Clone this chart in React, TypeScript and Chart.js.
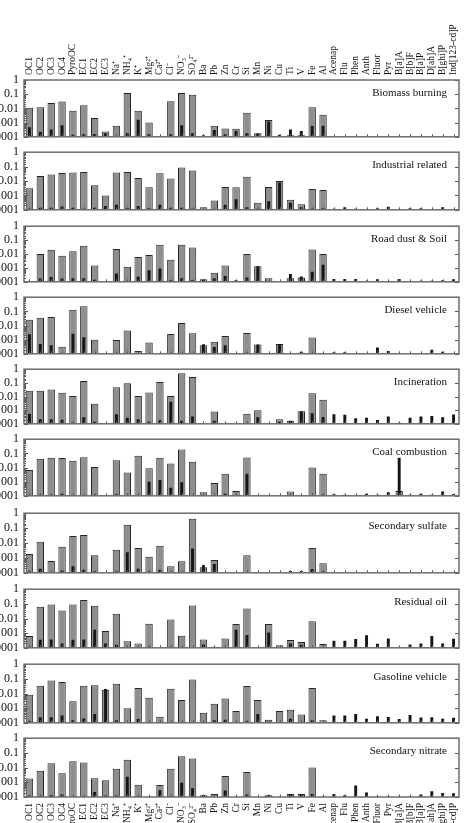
import React, { useEffect, useRef } from 'react';
import { Chart, registerables } from 'chart.js';
Chart.register(...registerables);

// ---------- data ----------
const categories = [
  'OC1', 'OC2', 'OC3', 'OC4', 'PyroOC', 'EC1', 'EC2', 'EC3',
  'Na⁺', 'NH₄⁺', 'K⁺', 'Mg²⁺', 'Ca²⁺', 'Cl⁻', 'NO₃⁻', 'SO₄²⁻',
  'Ba', 'Pb', 'Zn', 'Cr', 'Si', 'Mn', 'Ni', 'Cu', 'Ti', 'V', 'Fe', 'Al',
  'Acenap', 'Flu', 'Phen', 'Anth', 'Fluor', 'Pyr', 'B[a]A', 'B[b]F', 'B[a]P', 'D[ah]A', 'B[ghi]P', 'Ind[123-cd]P',
];

const yTickValues = [1, 0.1, 0.01, 0.001, 0.0001];

const sourceNames = [
  'Biomass burning', 'Industrial related', 'Road dust & Soil', 'Diesel vehicle', 'Incineration',
  'Coal combustion', 'Secondary sulfate', 'Residual oil', 'Gasoline vehicle', 'Secondary nitrate',
];

const N = null;
const noPAH = [N, N, N, N, N, N, N, N, N, N, N, N];

const biomassProfile = [0.011, 0.012, 0.024, 0.031, 0.0068, 0.017, 0.0021, 0.00024, 0.00059, 0.12, 0.0068, 0.001, 0.00011, 0.032, 0.12, 0.091, 0.00011, 0.0006, 0.00039, 0.00037, 0.005, 0.00018, 0.0015, 0.00012, 0.00013, 0.00013, 0.012, 0.0035, ...noPAH];
const biomassError = [0.00048, 0.00023, 0.00033, 0.00065, 0.00014, 0.00015, 0.00016, 0.00018, N, 0.00018, 0.0016, 0.00015, N, 0.00015, 0.00065, 0.00018, 0.00013, 0.0003, 0.00015, 0.00026, 0.00018, 0.00017, 0.0012, 0.00014, 0.00033, 0.00026, 0.00058, 0.0006, ...noPAH];

const industrialProfile = [0.0032, 0.022, 0.028, 0.036, 0.039, 0.043, 0.005, 0.001, 0.039, 0.043, 0.016, 0.0037, 0.034, 0.015, 0.087, 0.053, 0.00015, 0.00044, 0.0039, 0.0037, 0.02, 0.00031, 0.0039, 0.01, 0.0005, 0.00024, 0.0028, 0.0024, ...noPAH];
const industrialError = [0.00012, 0.00014, 0.00014, 0.00017, 0.00014, 0.00012, 0.00014, 0.00018, 0.00022, 0.00013, 0.00018, 0.00013, 0.00022, 0.00014, 0.00014, 0.00012, N, N, 0.00022, 0.00053, 0.00015, 0.00012, 0.0004, 0.0078, 0.00031, 0.00015, 0.00012, 0.00013, 0.00012, 0.00015, 0.00012, 0.00011, 0.00013, 0.00016, 0.00011, 0.00013, 0.00013, 0.00011, 0.00015, 0.00011];

const roadDustProfile = [N, 0.0098, 0.02, 0.0075, 0.016, 0.039, 0.0015, N, 0.023, 0.0012, 0.0062, 0.0084, 0.046, 0.0039, 0.046, 0.029, 0.00015, 0.00045, 0.0015, 0.00012, 0.01, 0.0013, 0.00018, N, 0.00018, 0.0002, 0.021, 0.01, ...noPAH];
const roadDustError = [N, 0.00017, 0.00022, 0.00017, 0.00018, 0.00018, 0.00014, N, 0.0004, N, 0.00023, 0.00068, 0.00091, 0.00013, 0.00018, 0.00013, 0.00014, 0.00018, 0.00026, 0.00013, 0.0002, 0.0013, N, N, 0.00037, 0.00024, 0.00052, 0.0017, 0.00016, 0.00016, 0.00016, 0.00012, 0.00015, 0.00011, 0.00016, 0.00011, 0.00012, 0.00012, 0.00013, 0.00015];

const dieselProfile = [0.025, 0.036, 0.04, 0.00032, 0.13, 0.23, 0.001, N, 0.00094, 0.0044, 0.00016, 0.00062, 0.00011, 0.0025, 0.015, 0.0028, 0.0004, 0.0007, 0.0018, N, 0.0029, 0.00046, N, 0.0005, N, 0.00012, 0.0014, N, ...noPAH];
const dieselError = [0.0024, 0.0005, 0.0004, N, 0.0026, 0.0015, 0.00011, N, N, N, 0.00011, 0.00011, 0.00011, 0.00011, 0.00011, 0.00011, 0.00047, 0.0003, 0.0004, N, 0.00012, 0.00046, N, 0.0005, 0.00011, 0.00014, 0.00011, 0.00011, 0.00013, 0.00013, N, N, 0.00028, 0.00016, N, N, N, 0.00019, 0.00014, N];

const incinerationProfile = [0.026, 0.026, 0.033, 0.019, 0.011, 0.135, 0.0029, N, 0.047, 0.094, 0.011, 0.02, 0.115, 0.011, 0.5, 0.27, 0.00011, 0.00079, 0.00011, 0.00011, 0.00054, 0.001, N, 0.00022, 0.00017, 0.00083, 0.017, 0.0058, ...noPAH];
const incinerationError = [0.00054, 0.00022, 0.00022, 0.0002, 0.00012, 0.0003, 0.00014, N, 0.00051, 0.00028, 0.00022, 0.00014, 0.00018, 0.0042, 0.00017, 0.00034, 0.00011, 0.00017, N, N, N, 0.0003, N, 0.00014, 0.00017, 0.00083, 0.00059, 0.00032, 0.0005, 0.00046, 0.00025, 0.00028, 0.00019, 0.00034, 0.00012, 0.00028, 0.00034, 0.00037, 0.0003, 0.00048];

const coalProfile = [0.0066, 0.041, 0.048, 0.046, 0.03, 0.053, 0.011, N, 0.032, 0.0045, 0.069, 0.009, 0.048, 0.019, 0.19, 0.026, 0.00018, 0.0008, 0.0036, 0.00022, 0.05, 0.00011, N, N, 0.0002, 0.00011, 0.01, 0.0036, N, N, N, N, N, N, 0.00022, N, N, N, N, N];
const coalError = [0.00011, 0.00012, 0.00012, 0.00014, 0.00011, 0.00011, 0.00012, N, 0.00013, 0.00011, 0.00011, 0.001, 0.0013, 0.00037, 0.0009, 0.00011, 0.00011, 0.00011, 0.00014, 0.00011, 0.0036, N, N, N, 0.00011, 0.00011, 0.00011, 0.00012, 0.00013, 0.00012, 0.00011, 0.00014, 0.00012, 0.00018, 0.048, 0.00012, 0.00014, 0.00012, 0.0002, 0.00013];

const sulfateProfile = [0.0018, 0.012, 0.00062, 0.0056, 0.03, 0.035, 0.0015, N, 0.0035, 0.17, 0.0047, 0.0012, 0.0065, 0.00027, 0.00059, 0.42, 0.00024, 0.00072, 0.00011, 0.00011, 0.0015, 0.00011, 0.00011, 0.00011, 0.00011, 0.00011, 0.0047, 0.00044, ...noPAH];
const sulfateError = [0.00012, 0.00019, 0.00011, 0.00014, 0.00027, 0.00016, 0.00012, N, 0.00012, 0.0024, 0.00019, 0.00012, 0.00016, 0.00011, 0.00011, 0.0042, 0.00033, 0.00039, N, N, 0.00011, N, N, N, 0.00013, 0.00013, 0.00018, 0.00012, ...noPAH];

const residualOilProfile = [0.00063, 0.063, 0.089, 0.035, 0.089, 0.18, 0.073, 0.0014, 0.021, 0.00028, 0.0002, 0.0044, N, 0.0087, 0.00066, 0.077, 0.00037, 0.00012, 0.00043, 0.0042, 0.049, N, 0.0042, 0.00015, 0.00034, 0.00025, 0.0065, 0.00018, ...noPAH];
const residualOilError = [N, 0.00035, 0.00037, 0.0002, 0.00035, 0.00037, 0.0017, 0.0002, 0.00016, N, N, 0.00012, N, 0.00011, N, 0.00011, 0.00017, N, N, 0.0017, 0.00076, N, 0.0011, N, 0.0002, 0.00016, 0.00011, N, 0.0003, 0.0003, 0.0004, 0.00073, 0.00019, 0.00043, 0.00011, 0.00017, 0.0002, 0.00063, 0.0002, 0.00041];

const gasolineProfile = [0.0083, 0.034, 0.077, 0.06, 0.003, 0.034, 0.037, 0.018, 0.047, 0.00098, 0.024, 0.0051, 0.00026, 0.021, 0.0036, 0.089, 0.00049, 0.002, 0.0046, 0.00065, 0.032, 0.0036, 0.00016, 0.00065, 0.00078, 0.00037, 0.024, 0.00015, ...noPAH];
const gasolineError = [0.00013, 0.00024, 0.00024, 0.00032, 0.00015, 0.0002, 0.0004, 0.02, 0.00015, N, 0.00018, 0.00011, 0.00011, 0.00011, 0.00011, 0.00011, 0.00011, 0.00015, 0.00016, 0.00011, 0.00013, 0.0004, 0.00011, 0.00011, 0.00019, 0.00011, 0.00015, N, 0.00031, 0.00032, 0.0004, 0.00019, 0.00028, 0.00025, 0.00018, 0.00034, 0.00023, 0.00024, 0.00019, 0.00022];

const nitrateProfile = [0.0018, 0.0061, 0.02, 0.0041, 0.027, 0.022, 0.0019, 0.0014, 0.0083, 0.034, 0.00069, 0.00011, 0.00065, 0.0083, 0.06, 0.042, 0.00013, 0.00016, 0.0027, N, 0.005, N, 0.00013, N, 0.00016, 0.00016, 0.01, N, ...noPAH];
const nitrateError = [0.00012, 0.00011, 0.00013, 0.00015, N, 0.00011, 0.00022, 0.00012, 0.00012, 0.0024, 0.00011, N, 0.00029, 0.00011, 0.00095, 0.0004, 0.00013, N, 0.00028, N, 0.00015, N, 0.00013, 0.00011, 0.00016, 0.00016, 0.00016, 0.00011, 0.00016, 0.00013, 0.0006, 0.0002, 0.00011, 0.00011, 0.00011, 0.00011, 0.00015, 0.00025, 0.00019, 0.00018];

const profiles = [biomassProfile, industrialProfile, roadDustProfile, dieselProfile, incinerationProfile, coalProfile, sulfateProfile, residualOilProfile, gasolineProfile, nitrateProfile];
const errors = [biomassError, industrialError, roadDustError, dieselError, incinerationError, coalError, sulfateError, residualOilError, gasolineError, nitrateError];

// ---------- layout ----------
const PAGE_W = 465;
const PAGE_H = 823;
const PLOT_LEFT = 24;
const PLOT_RIGHT = 459;
const Y_AXIS_W = 40;
const CANVAS_LEFT = PLOT_LEFT - Y_AXIS_W;
const CANVAS_W = PAGE_W - CANVAS_LEFT;
const PAD_RIGHT = PAGE_W - PLOT_RIGHT;
const V_PAD = 10;
const BOTTOM_AXIS_H = 70;
const PANEL_TOPS = [80, 150, 224, 295, 367, 437, 511, 587, 662, 736];
const PANEL_BOTTOMS = [139, 212, 284, 356, 426, 498, 575, 650, 725, 797];
const CAT_FONT_SIZE = 9.5;
const CAT_LINE_HEIGHT = 1.2;

const FONT = "'Liberation Serif', 'Times New Roman', Times, serif";

function isMajor(v: number) {
  const l = Math.log10(v);
  return Math.abs(l - Math.round(l)) < 1e-6;
}

const framePlugin = {
  id: 'panelFrame',
  afterDatasetsDraw(chart: any, _args: any, opts: any) {
    const { ctx, chartArea } = chart;
    const { left, right, top, bottom } = chartArea;
    const yScale = chart.scales.y;
    const xScale = chart.scales.x;
    ctx.save();
    ctx.strokeStyle = '#555';
    ctx.lineWidth = 1;
    yScale.ticks.forEach((t: any) => {
      const y = Math.round(yScale.getPixelForValue(t.value)) + 0.5;
      const major = isMajor(t.value);
      const len = major ? 4 : 2;
      ctx.beginPath();
      ctx.moveTo(left, y);
      ctx.lineTo(left + len, y);
      if (major) {
        ctx.moveTo(right, y);
        ctx.lineTo(right - 4, y);
      }
      ctx.stroke();
    });
    categories.forEach((_c, i) => {
      const x = Math.round(xScale.getPixelForValue(i)) + 0.5;
      ctx.beginPath();
      ctx.moveTo(x, bottom);
      ctx.lineTo(x, bottom - 2.5);
      ctx.stroke();
    });
    ctx.strokeStyle = '#6e6e6e';
    ctx.lineWidth = 1.5;
    ctx.strokeRect(left, top, right - left, bottom - top);
    ctx.fillStyle = '#111';
    ctx.font = `11px ${FONT}`;
    ctx.textAlign = 'right';
    ctx.textBaseline = 'middle';
    ctx.fillText(opts.name, right - 12, top + 13);
    ctx.restore();
  },
};

function Panel({ index }: { index: number }) {
  const ref = useRef<HTMLCanvasElement>(null);
  const isFirst = index === 0;
  const isLast = index === 9;
  const plotTop = PANEL_TOPS[index];
  const plotH = PANEL_BOTTOMS[index] - plotTop;
  const canvasTop = isFirst ? 0 : plotTop - V_PAD;
  const canvasH = isFirst ? plotTop + plotH + V_PAD : isLast ? V_PAD + plotH + BOTTOM_AXIS_H : plotH + 2 * V_PAD;

  useEffect(() => {
    const canvas = ref.current;
    if (!canvas) return;
    const chart = new Chart(canvas, {
      type: 'bar',
      data: {
        labels: categories,
        datasets: [
          {
            label: 'uncertainty',
            data: errors[index] as any,
            backgroundColor: '#161616',
            borderColor: '#161616',
            borderWidth: 0,
            barPercentage: 0.27,
            categoryPercentage: 1,
            grouped: false,
            order: 0,
          },
          {
            label: 'profile',
            data: profiles[index] as any,
            backgroundColor: '#8e8e8e',
            borderColor: '#262626',
            borderWidth: 1,
            barPercentage: 0.68,
            categoryPercentage: 1,
            grouped: false,
            order: 1,
          },
        ],
      },
      options: {
        responsive: false,
        animation: false,
        devicePixelRatio: 1,
        layout: {
          padding: {
            top: isFirst ? 0 : V_PAD,
            bottom: isLast ? 0 : V_PAD,
            left: 0,
            right: PAD_RIGHT,
          },
        },
        plugins: {
          legend: { display: false },
          tooltip: { enabled: false },
          panelFrame: { name: sourceNames[index] },
        } as any,
        scales: {
          x: {
            type: 'category',
            position: isFirst ? 'top' : 'bottom',
            display: isFirst || isLast,
            offset: true,
            grid: { display: false, drawTicks: false },
            border: { display: false },
            ticks: {
              autoSkip: false,
              minRotation: 90,
              maxRotation: 90,
              padding: isFirst ? 5 : 6,
              labelOffset: isFirst ? CAT_FONT_SIZE * CAT_LINE_HEIGHT : 0,
              color: '#111',
              font: { family: FONT, size: CAT_FONT_SIZE, lineHeight: CAT_LINE_HEIGHT },
            },
            afterFit: (s: any) => {
              s.height = isFirst ? plotTop : isLast ? BOTTOM_AXIS_H : 0;
              s.paddingLeft = 0;
              s.paddingRight = 0;
            },
          },
          y: {
            type: 'logarithmic',
            min: 0.0001,
            max: 1,
            grid: { display: false, drawTicks: false },
            border: { display: false },
            ticks: {
              autoSkip: false,
              padding: 5,
              color: '#111',
              font: { family: FONT, size: 12 },
              callback: (v: any) => {
                const val = Number(v);
                if (!isMajor(val)) return '';
                const e = Math.round(Math.log10(val));
                const match = yTickValues.find((t) => Math.round(Math.log10(t)) === e);
                if (match === undefined) return '';
                return e === 0 ? '1' : match.toFixed(-e);
              },
            },
            afterFit: (s: any) => {
              s.width = Y_AXIS_W;
            },
          },
        },
      },
      plugins: [framePlugin],
    } as any);
    return () => chart.destroy();
  }, [index]);

  return (
    <canvas
      ref={ref}
      width={CANVAS_W}
      height={canvasH}
      style={{
        position: 'absolute',
        left: CANVAS_LEFT,
        top: canvasTop,
        width: CANVAS_W,
        height: canvasH,
        display: 'block',
      }}
    />
  );
}

export default function App() {
  return (
    <div
      style={{
        position: 'fixed',
        left: 0,
        top: 0,
        width: PAGE_W,
        height: PAGE_H,
        overflow: 'hidden',
        background: '#fff',
      }}
    >
      {sourceNames.map((_n, i) => (
        <Panel key={i} index={i} />
      ))}
    </div>
  );
}
